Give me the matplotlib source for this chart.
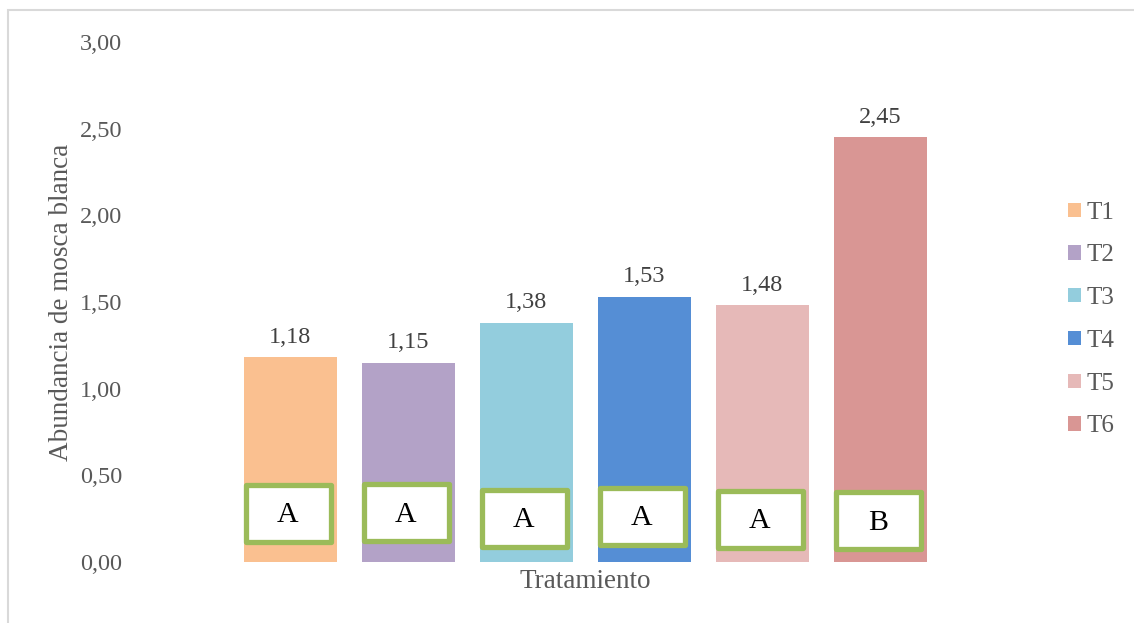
import matplotlib
matplotlib.use("Agg")
import matplotlib.pyplot as plt
from matplotlib.patches import Rectangle, Patch

# Data
treatments = ["T1", "T2", "T3", "T4", "T5", "T6"]
abundance = [1.18, 1.15, 1.38, 1.53, 1.48, 2.45]
letters = ["A", "A", "A", "A", "A", "B"]
yticks = [0.0, 0.5, 1.0, 1.5, 2.0, 2.5, 3.0]

# Styles
colors = ["#FAC090", "#B3A2C7", "#93CDDD", "#558ED5", "#E6B9B8", "#D99694"]
green = "#9BBB59"
gray = "#595959"
serif = ["Liberation Serif", "DejaVu Serif"]
box_centers_y = [0.280, 0.283, 0.251, 0.262, 0.245, 0.237]  # letter box placement

W, H = 1134, 623
fig = plt.figure(figsize=(W / 100, H / 100), dpi=100)
plt.rcParams["font.family"] = serif

# outer chart frame (light gray)
fig.add_artist(Rectangle((8 / W, -0.1), 1.2, (H - 10) / H + 0.1, transform=fig.transFigure,
                         fill=False, edgecolor="#D9D9D9", linewidth=1.5))

ax = fig.add_axes([130 / W, 61 / H, 910 / W, 520 / H])
x = list(range(len(treatments)))
bar_w = 93 / 118
bars = ax.bar(x, abundance, width=bar_w, color=colors, zorder=2)

ax.set_xlim(2.5 - 455 / 118, 2.5 + 455 / 118)
ax.set_ylim(0, 3.0)
ax.set_yticks(yticks)
ax.set_yticklabels([f"{v:.2f}".replace(".", ",") for v in yticks], fontsize=17.5, color=gray)
ax.set_xticks([])
ax.tick_params(axis="y", length=0, pad=5.5)
for s in ax.spines.values():
    s.set_visible(False)

# value labels
for xi, v in zip(x, abundance):
    ax.annotate(f"{v:.2f}".replace(".", ","), (xi, v), xytext=(0, 7), textcoords="offset points",
                ha="center", va="bottom", fontsize=17.5, color="#404040")

# significance letters in green-bordered boxes
bw = 85 / 118
bh = 57 / (520 / 3.0)
for xi, lt, cy in zip(x, letters, box_centers_y):
    cx = xi - 2 / 118
    ax.add_patch(Rectangle((cx - bw / 2, cy - bh / 2), bw, bh, facecolor="white",
                           edgecolor=green, linewidth=3.8, joinstyle="round", zorder=3))
    ax.text(cx, cy - 0.01, lt, ha="center", va="center", fontsize=21.5, color="black", zorder=4)

ax.set_ylabel("Abundancia de mosca blanca", fontsize=19.5, color=gray, labelpad=4)
fig.text(585 / W, (H - 582) / H, "Tratamiento", ha="center", va="center", fontsize=19.5, color=gray)

handles = [Patch(facecolor=c, edgecolor="none") for c in colors]
fig.legend(handles, treatments, loc="center left", bbox_to_anchor=(1068 / W, (H - 319.5) / H),
           frameon=False, fontsize=18, labelcolor=gray, handlelength=0.5, handleheight=0.5,
           handletextpad=0.25, labelspacing=0.83, borderaxespad=0, borderpad=0)

fig.savefig("out.png", dpi=100, facecolor="white")
